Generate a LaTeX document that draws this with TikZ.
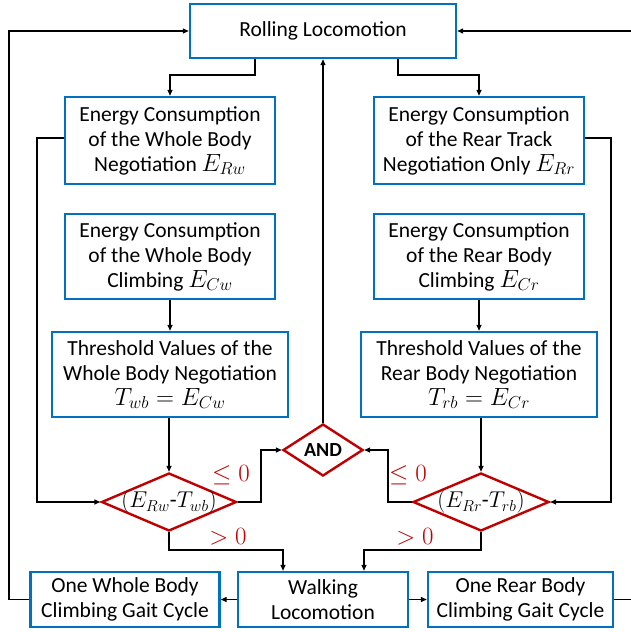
\documentclass[tikz,border=0pt]{standalone}
\usepackage{graphicx}
\usepackage{fontspec}
\setmainfont{Carlito}
\usetikzlibrary{shapes.geometric,arrows.meta}
\definecolor{boxblue}{RGB}{0,112,192}
\definecolor{dred}{RGB}{192,0,0}
\newcommand{\mymath}[1]{{\fontsize{24.5}{25}\selectfont$#1$}}
\newcommand{\dmath}[1]{\scalebox{0.92}{\fontsize{24.5}{25}\selectfont$#1$}}
\begin{document}
\begin{tikzpicture}[x=1pt,y=-1pt,
  every node/.style={font=\fontsize{21.5}{25}\selectfont},
  bx/.style={draw=boxblue,line width=2.4pt,fill=white,align=center,inner sep=0pt},
  dm/.style={draw=dred,line width=2.4pt,fill=white,diamond,inner sep=0pt},
  conn/.style={line width=1.3pt,-{Triangle[length=6pt,width=5pt]}},
  lab/.style={text=dred,font=\fontsize{23}{24}\selectfont}]
\useasboundingbox (0,0) rectangle (631,632);
\node[bx,minimum width=266,minimum height=54] (roll) at (323,31) {Rolling Locomotion};
\node[bx,minimum width=210,minimum height=87] (e1l) at (170,140.5) {Energy Consumption\\of the Whole Body\\Negotiation \mymath{E_{Rw}}};
\node[bx,minimum width=210,minimum height=87] (e1r) at (479,140.5) {Energy Consumption\\of the Rear Track\\Negotiation Only \mymath{E_{Rr}}};
\node[bx,minimum width=210,minimum height=85] (e2l) at (170,256.5) {Energy Consumption\\of the Whole Body\\Climbing \mymath{E_{Cw}}};
\node[bx,minimum width=210,minimum height=85] (e2r) at (479,256.5) {Energy Consumption\\of the Rear Body\\Climbing \mymath{E_{Cr}}};
\node[bx,minimum width=236,minimum height=85] (t3l) at (170,374.5) {Threshold Values of the\\Whole Body Negotiation\\\mymath{T_{wb}=E_{Cw}}};
\node[bx,minimum width=236,minimum height=85] (t3r) at (479,374.5) {Threshold Values of the\\Rear Body Negotiation\\\mymath{T_{rb}=E_{Cr}}};
\node[dm,minimum width=80,minimum height=52,label={[font=\fontsize{20}{22}\selectfont\bfseries]center:AND}] (and) at (323,450) {};
\node[dm,minimum width=135,minimum height=58,label={center:\dmath{(E_{Rw}\hbox{-}T_{wb})}}] (dl) at (169,502) {};
\node[dm,minimum width=136,minimum height=58,label={center:\dmath{(E_{Rr}\hbox{-}T_{rb})}}] (dr) at (481,502) {};
\node[bx,minimum width=189,minimum height=55] (cl) at (125,599.5) {One Whole Body\\Climbing Gait Cycle};
\node[bx,minimum width=170,minimum height=55] (walk) at (323,599.5) {Walking\\Locomotion};
\node[bx,minimum width=185,minimum height=55] (cr) at (520.5,599.5) {One Rear Body\\Climbing Gait Cycle};
\node[lab] (l1) at (231,475) {$\leq 0$};
\node[lab] (l2) at (408,475) {$\leq 0$};
\node[lab] (g1) at (228,537) {$>0$};
\node[lab] (g2) at (415,537) {$>0$};
\coordinate (lout) at (9,31);
\coordinate (rout) at (634,31);
% connectors
\draw[conn] (roll.south -| 255,0) -- (255,75) -| (e1l.north);
\draw[conn] (roll.south -| 398,0) -- (398,75) -| (e1r.north);
\draw[conn] (and.north) -- (roll.south);
\draw[conn] (e1l.west |- 0,138) -- (37,138) |- (dl.west);
\draw[conn] (e1r.east |- 0,138) -- (611,138) |- (dr.east);
\draw[conn] (e2l) -- (t3l);
\draw[conn] (e2r) -- (t3r);
\draw[conn] (t3l.south -| dl.north) -- (dl.north);
\draw[conn] (t3r.south -| dr.north) -- (dr.north);
\draw[conn] (dl.east) -- (261,502) |- (and.west);
\draw[conn] (dr.west) -- (388,502) |- (and.east);
\draw[conn] (dl.south) -- (dl.south |- 0,550) -| (walk.north -| 283,0);
\draw[conn] (dr.south) -- (dr.south |- 0,550) -| (walk.north -| 364,0);
\draw[conn] (walk.west) -- (cl.east);
\draw[conn] (walk.east) -- (cr.west);
\draw[conn] (cl.west) -| (lout) -- (roll.west);
\draw[conn] (cr.east) -| (rout) -- (roll.east);
\end{tikzpicture}
\end{document}
